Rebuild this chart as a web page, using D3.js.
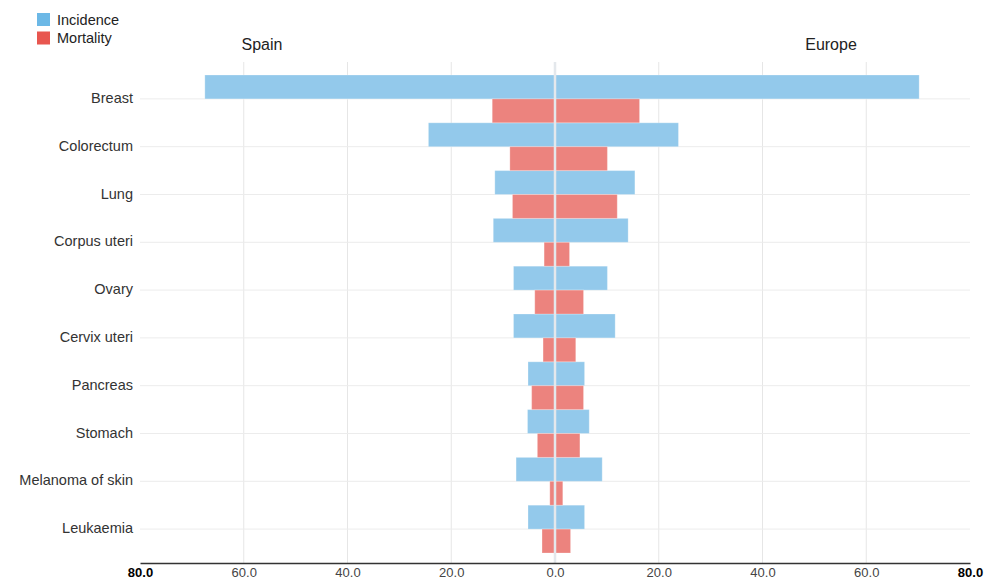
<!DOCTYPE html>
<html>
<head>
<meta charset="utf-8">
<script src="https://cdn.jsdelivr.net/npm/d3@7"></script>
<style>
  body { margin: 0; background: #fff; }
  text { font-family: "Liberation Sans", Arial, sans-serif; }
</style>
</head>
<body>
<script>
// data
var cancers = ["Breast", "Colorectum", "Lung", "Corpus uteri", "Ovary", "Cervix uteri",
               "Pancreas", "Stomach", "Melanoma of skin", "Leukaemia"];
var spainIncidence  = [67.5, 24.4, 11.6, 11.9, 8.0, 8.0, 5.2, 5.3, 7.5, 5.2];
var spainMortality  = [12.1, 8.7, 8.2, 2.1, 3.9, 2.3, 4.5, 3.4, 1.0, 2.5];
var europeIncidence = [70.2, 23.8, 15.4, 14.1, 10.1, 11.6, 5.7, 6.6, 9.1, 5.7];
var europeMortality = [16.3, 10.1, 12.0, 2.8, 5.5, 4.0, 5.5, 4.8, 1.5, 3.0];
var tickValues = [-80, -60, -40, -20, 0, 20, 40, 60, 80];

var width = 986, height = 579,
    margin = { top: 75, right: 16, bottom: 26, left: 140 },
    color_inc = "#6cb8e6", color_mort = "#e8564f",
    bar_inc = "#93c9eb", bar_mort = "#ec837e";

var svg = d3.select("body").append("svg")
    .attr("width", width)
    .attr("height", height);

var x = d3.scaleLinear().domain([-80, 80]).range([margin.left, width - margin.right]);
var y = d3.scaleBand().domain(cancers).range([margin.top, 553]).padding(0);
var yInner = d3.scaleBand().domain(["inc", "mort"]).range([0, y.bandwidth()]);

var rows = cancers.map((c, i) => ({
    name: c,
    spainInc: spainIncidence[i], spainMort: spainMortality[i],
    euInc: europeIncidence[i], euMort: europeMortality[i]
}));

// vertical grid
svg.append("g").selectAll("line")
    .data(tickValues.slice(1, -1))
    .enter().append("line")
    .attr("x1", d => x(d)).attr("x2", d => x(d))
    .attr("y1", 62).attr("y2", 563)
    .attr("stroke", "#e6e6e6").attr("stroke-width", 1);

// horizontal grid at category centres
svg.append("g").selectAll("line")
    .data(cancers)
    .enter().append("line")
    .attr("x1", x(-80)).attr("x2", x(80))
    .attr("y1", d => y(d) + y.bandwidth() / 2)
    .attr("y2", d => y(d) + y.bandwidth() / 2)
    .attr("stroke", "#ececec").attr("stroke-width", 1);

// bars
var bars = svg.append("g");
function addBars(key, sign, inner, fill) {
    bars.selectAll(".bar-" + key)
        .data(rows)
        .enter().append("rect")
        .attr("class", "bar-" + key)
        .attr("x", d => sign < 0 ? x(-d[key]) : x(0))
        .attr("width", d => Math.abs(x(d[key]) - x(0)))
        .attr("y", d => y(d.name) + yInner(inner))
        .attr("height", yInner.bandwidth())
        .attr("fill", fill)
        .attr("stroke", "#fff").attr("stroke-opacity", 0.25).attr("stroke-width", 1);
}
addBars("spainInc", -1, "inc", bar_inc);
addBars("spainMort", -1, "mort", bar_mort);
addBars("euInc", 1, "inc", bar_inc);
addBars("euMort", 1, "mort", bar_mort);

// zero line over bars
svg.append("line")
    .attr("x1", x(0)).attr("x2", x(0))
    .attr("y1", 62).attr("y2", 563)
    .attr("stroke", "#e4e8ec").attr("stroke-width", 2.5);

// category labels
svg.append("g").selectAll("text")
    .data(cancers)
    .enter().append("text")
    .attr("x", 133)
    .attr("y", d => y(d) + y.bandwidth() / 2 - 1)
    .attr("dy", "0.35em")
    .attr("text-anchor", "end")
    .style("font-size", "14.5px")
    .style("fill", "#333")
    .text(d => d);

// bottom axis
var xAxis = d3.axisBottom(x)
    .tickValues(tickValues)
    .tickSize(0)
    .tickPadding(5)
    .tickFormat(d => Math.abs(d).toFixed(1));

var axisG = svg.append("g")
    .attr("transform", `translate(0,563)`)
    .call(xAxis);
axisG.select(".domain").attr("stroke", "#333").attr("stroke-width", 1.5);
axisG.selectAll(".tick text")
    .style("font-size", "13px")
    .style("fill", d => Math.abs(d) === 80 ? "#000" : "#444")
    .style("font-weight", d => Math.abs(d) === 80 ? "bold" : "normal");

// side titles
svg.append("text").attr("x", 262).attr("y", 50).attr("text-anchor", "middle")
    .style("font-size", "16px").style("fill", "#222").text("Spain");
svg.append("text").attr("x", 831).attr("y", 50).attr("text-anchor", "middle")
    .style("font-size", "16px").style("fill", "#222").text("Europe");

// legend
var legend = svg.append("g").attr("transform", "translate(37,13)");
[["Incidence", color_inc], ["Mortality", color_mort]].forEach((d, i) => {
    legend.append("rect")
        .attr("x", 0).attr("y", i * 18.5)
        .attr("width", 13).attr("height", 13)
        .attr("fill", d[1]);
    legend.append("text")
        .attr("x", 20).attr("y", i * 18.5 + 11.5)
        .style("font-size", "14.5px").style("fill", "#222")
        .text(d[0]);
});
</script>
</body>
</html>
